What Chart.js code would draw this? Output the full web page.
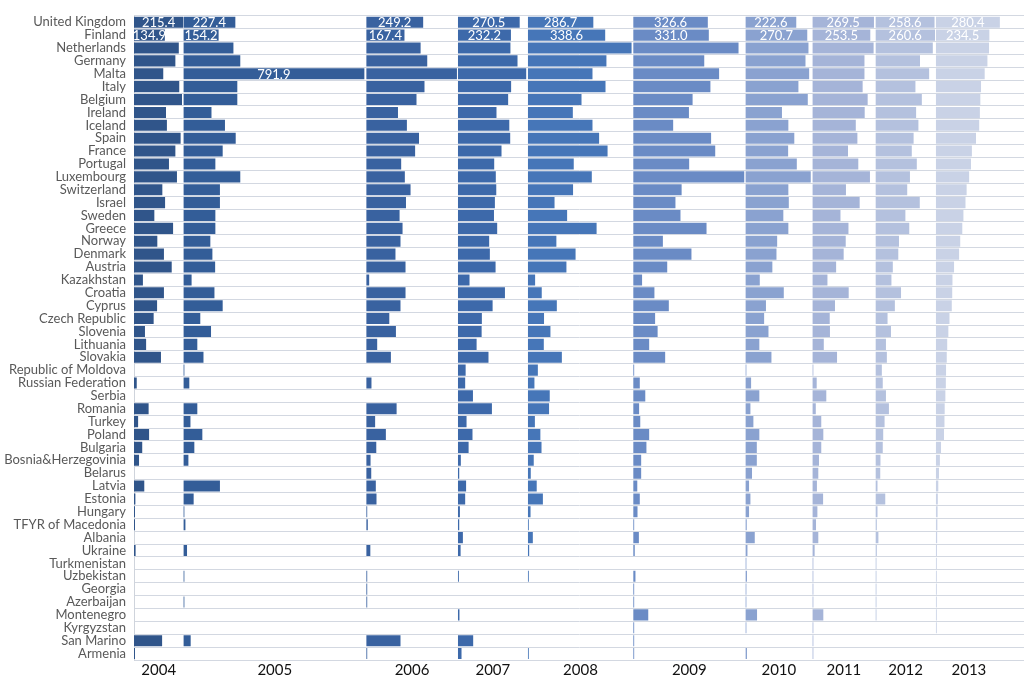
<!DOCTYPE html>
<html>
<head>
<meta charset="utf-8">
<script src="https://cdn.jsdelivr.net/npm/chart.js@4.4.1/dist/chart.umd.min.js"></script>
<style>
  html, body { margin: 0; padding: 0; background: #fff; }
  #wrap { width: 1024px; height: 684px; }
</style>
</head>
<body>
<div id="wrap"><canvas id="chart"></canvas></div>
<script>
const countries = ["United Kingdom", "Finland", "Netherlands", "Germany", "Malta", "Italy", "Belgium", "Ireland", "Iceland", "Spain",
  "France", "Portugal", "Luxembourg", "Switzerland", "Israel", "Sweden", "Greece", "Norway", "Denmark", "Austria",
  "Kazakhstan", "Croatia", "Cyprus", "Czech Republic", "Slovenia", "Lithuania", "Slovakia", "Republic of Moldova", "Russian Federation", "Serbia",
  "Romania", "Turkey", "Poland", "Bulgaria", "Bosnia&Herzegovinia", "Belarus", "Latvia", "Estonia", "Hungary", "TFYR of Macedonia",
  "Albania", "Ukraine", "Turkmenistan", "Uzbekistan", "Georgia", "Azerbaijan", "Montenegro", "Kyrgyzstan", "San Marino", "Armenia"];

const years = ["2004", "2005", "2006", "2007", "2008", "2009", "2010", "2011", "2012", "2013"];

const v2004 = [215.4, 134.9, 196, 181, 128, 198, 210, 140, 144, 204, 181, 153, 188, 124, 136, 89, 171, 102, 131, 165,
  39, 131, 101, 86, 48, 53, 118, null, 12, null, 64, 18, 66, 36, 22, null, 45, 6, 2, 4,
  null, 7, null, null, null, null, null, null, 123, 3];
const v2005 = [227.4, 154.2, 219, 249, 791.9, 236, 236, 123, 182, 229, 172, 140, 249, 160, 160, 140, 140, 118, 127, 139,
  36, 136, 172, 74, 121, 61, 88, 3, 26, null, 61, 31, 83, 48, 22, null, 160, 45, 3, 9,
  null, 16, null, 4, null, 2, null, null, 32, null];
const v2006 = [249.2, 167.4, 238, 267, 397, 255, 220, 139, 178, 231, 214, 153, 169, 194, 174, 146, 159, 150, 128, 172,
  13, 172, 150, 101, 130, 48, 108, null, 23, null, 133, 39, 86, 44, 19, 22, 42, 45, 4, 7,
  null, 18, null, 3, 1, 1, null, null, 150, 3];
const v2007 = [270.5, 232.2, 230, 261, 299, 233, 220, 169, 225, 229, 191, 159, 166, 168, 162, 158, 172, 137, 140, 165,
  51, 206, 152, 105, 104, 82, 134, 34, 32, 66, 149, 38, 64, 47, 13, 6, 36, 32, 9, 6,
  22, 12, null, 4, null, null, 7, null, 67, 16];
const v2008 = [286.7, 338.6, 454, 344, 283, 340, 235, 197, 283, 312, 349, 201, 280, 198, 117, 172, 301, 125, 209, 169,
  32, 61, 127, 71, 99, 70, 149, 44, 29, 96, 93, 31, 55, 60, 26, 13, 39, 66, 12, 4,
  22, 6, null, 3, null, null, null, null, null, 3];
const v2009 = [326.6, 331.0, 461, 311, 376, 338, 260, 244, 175, 341, 359, 245, 486, 212, 185, 207, 321, 130, 255, 149,
  39, 93, 156, 96, 107, 70, 140, 3, 29, 53, 26, 31, 70, 58, 35, 35, 18, 29, 19, 3,
  25, 7, null, 10, 3, 3, 66, 3, 2, 2];
const v2010 = [222.6, 270.7, 276, 263, 279, 232, 273, 160, 188, 214, 187, 225, 286, 188, 190, 166, 188, 139, 136, 118,
  63, 168, 90, 82, 101, 61, 114, 3, 25, 61, 22, 35, 61, 50, 50, 29, 16, 22, 16, 6,
  41, 9, 1, 7, 1, 1, 51, 1, null, 7];
const v2011 = [269.5, 253.5, 268, 228, 228, 220, 242, 229, 190, 197, 156, 201, 252, 147, 207, 123, 158, 146, 137, 104,
  66, 159, 99, 76, 77, 50, 108, 3, 19, 61, 15, 39, 48, 39, 29, 26, 20, 47, 22, 16,
  26, 10, 1, 2, 1, 1, 48, 1, 1, 2];
const v2012 = [258.6, 260.6, 251, 195, 235, 175, 203, 178, 188, 167, 159, 181, 151, 139, 194, 131, 148, 103, 100, 76,
  70, 112, 85, 53, 68, 46, 50, 28, 32, 46, 59, 40, 34, 32, 22, 21, 9, 43, 9, 6,
  13, 6, 1, 1, 1, 1, 1, null, null, null];
const v2013 = [280.4, 234.5, 233, 226, 214, 198, 195, 193, 190, 176, 158, 154, 146, 135, 130, 121, 116, 107, 102, 80,
  73, 72, 70, 60, 55, 50, 48, 45, 44, 42, 39, 38, 36, 23, 18, 14, 11, 9, 8, 7,
  6, 5, 4, 3, 3, 2, 2, 1, null, null];

const series = [v2004, v2005, v2006, v2007, v2008, v2009, v2010, v2011, v2012, v2013];

// rows whose values are written inside the bars
const labelledRows = ["United Kingdom", "Finland"];
const extraLabels = [["Malta", "2005"]];

const colors = ["#30558a", "#335d98", "#3962a0", "#3d69aa", "#4676b8", "#6a8bc5", "#8aa2d0", "#a5b4d8", "#b4c1de", "#c9d2e6"];
// width of each year panel in data units (same scale for all panels)
const panelMax = [216, 800, 401, 306, 461, 491, 293, 276, 264, 290];
const font = "Lato";

const datasets = years.map((y, i) => ({
  label: y,
  data: series[i],
  xAxisID: "x" + y,
  backgroundColor: colors[i],
  grouped: false,
  barPercentage: 0.86,
  categoryPercentage: 1,
  minBarLength: 1,
}));

const scales = {
  y: {
    grid: { color: "#d3d8e1", drawTicks: false },
    border: { color: "#cfd4dc" },
    ticks: { autoSkip: false, color: "#595959", font: { family: font, size: 13 }, padding: 8 },
    afterFit: s => { s.width = 134; },
  },
};
years.forEach((y, i) => {
  scales["x" + y] = {
    type: "linear",
    axis: "x",
    position: "bottom",
    stack: "panels",
    stackWeight: panelMax[i],
    min: 0,
    max: panelMax[i],
    grid: { display: false },
    border: { display: false },
    ticks: { display: false },
    title: { display: true, text: y, color: "#111", font: { family: font, size: 15 }, padding: { top: 0, bottom: 5 } },
    afterFit: s => { s.height = 24; },
  };
});
// empty strip on the right so the row lines run to the edge
scales.xpad = {
  type: "linear", axis: "x", position: "bottom", stack: "panels", stackWeight: 96,
  min: 0, max: 96,
  grid: { display: false }, border: { display: false }, ticks: { display: false },
  afterFit: s => { s.height = 24; },
};

const valueLabels = {
  id: "valueLabels",
  afterDatasetsDraw(chart) {
    const ctx = chart.ctx;
    ctx.save();
    ctx.font = "13px " + font;
    ctx.fillStyle = "#ffffff";
    ctx.textAlign = "center";
    ctx.textBaseline = "middle";
    chart.data.datasets.forEach((ds, di) => {
      const meta = chart.getDatasetMeta(di);
      meta.data.forEach((bar, i) => {
        const c = countries[i];
        const show = labelledRows.includes(c) || extraLabels.some(e => e[0] === c && e[1] === years[di]);
        if (!show || ds.data[i] == null) return;
        const p = bar.getProps(["x", "y", "base"], true);
        ctx.fillText(ds.data[i].toFixed(1), (p.x + p.base) / 2, p.y + 1);
      });
    });
    ctx.restore();
  },
};

new Chart(document.getElementById("chart"), {
  type: "bar",
  data: { labels: countries, datasets: datasets },
  options: {
    indexAxis: "y",
    responsive: true,
    maintainAspectRatio: false,
    animation: false,
    layout: { padding: { top: 13, left: 0, right: 0, bottom: 0 } },
    plugins: { legend: { display: false }, tooltip: { enabled: false } },
    scales: scales,
  },
  plugins: [valueLabels],
});
</script>
</body>
</html>
